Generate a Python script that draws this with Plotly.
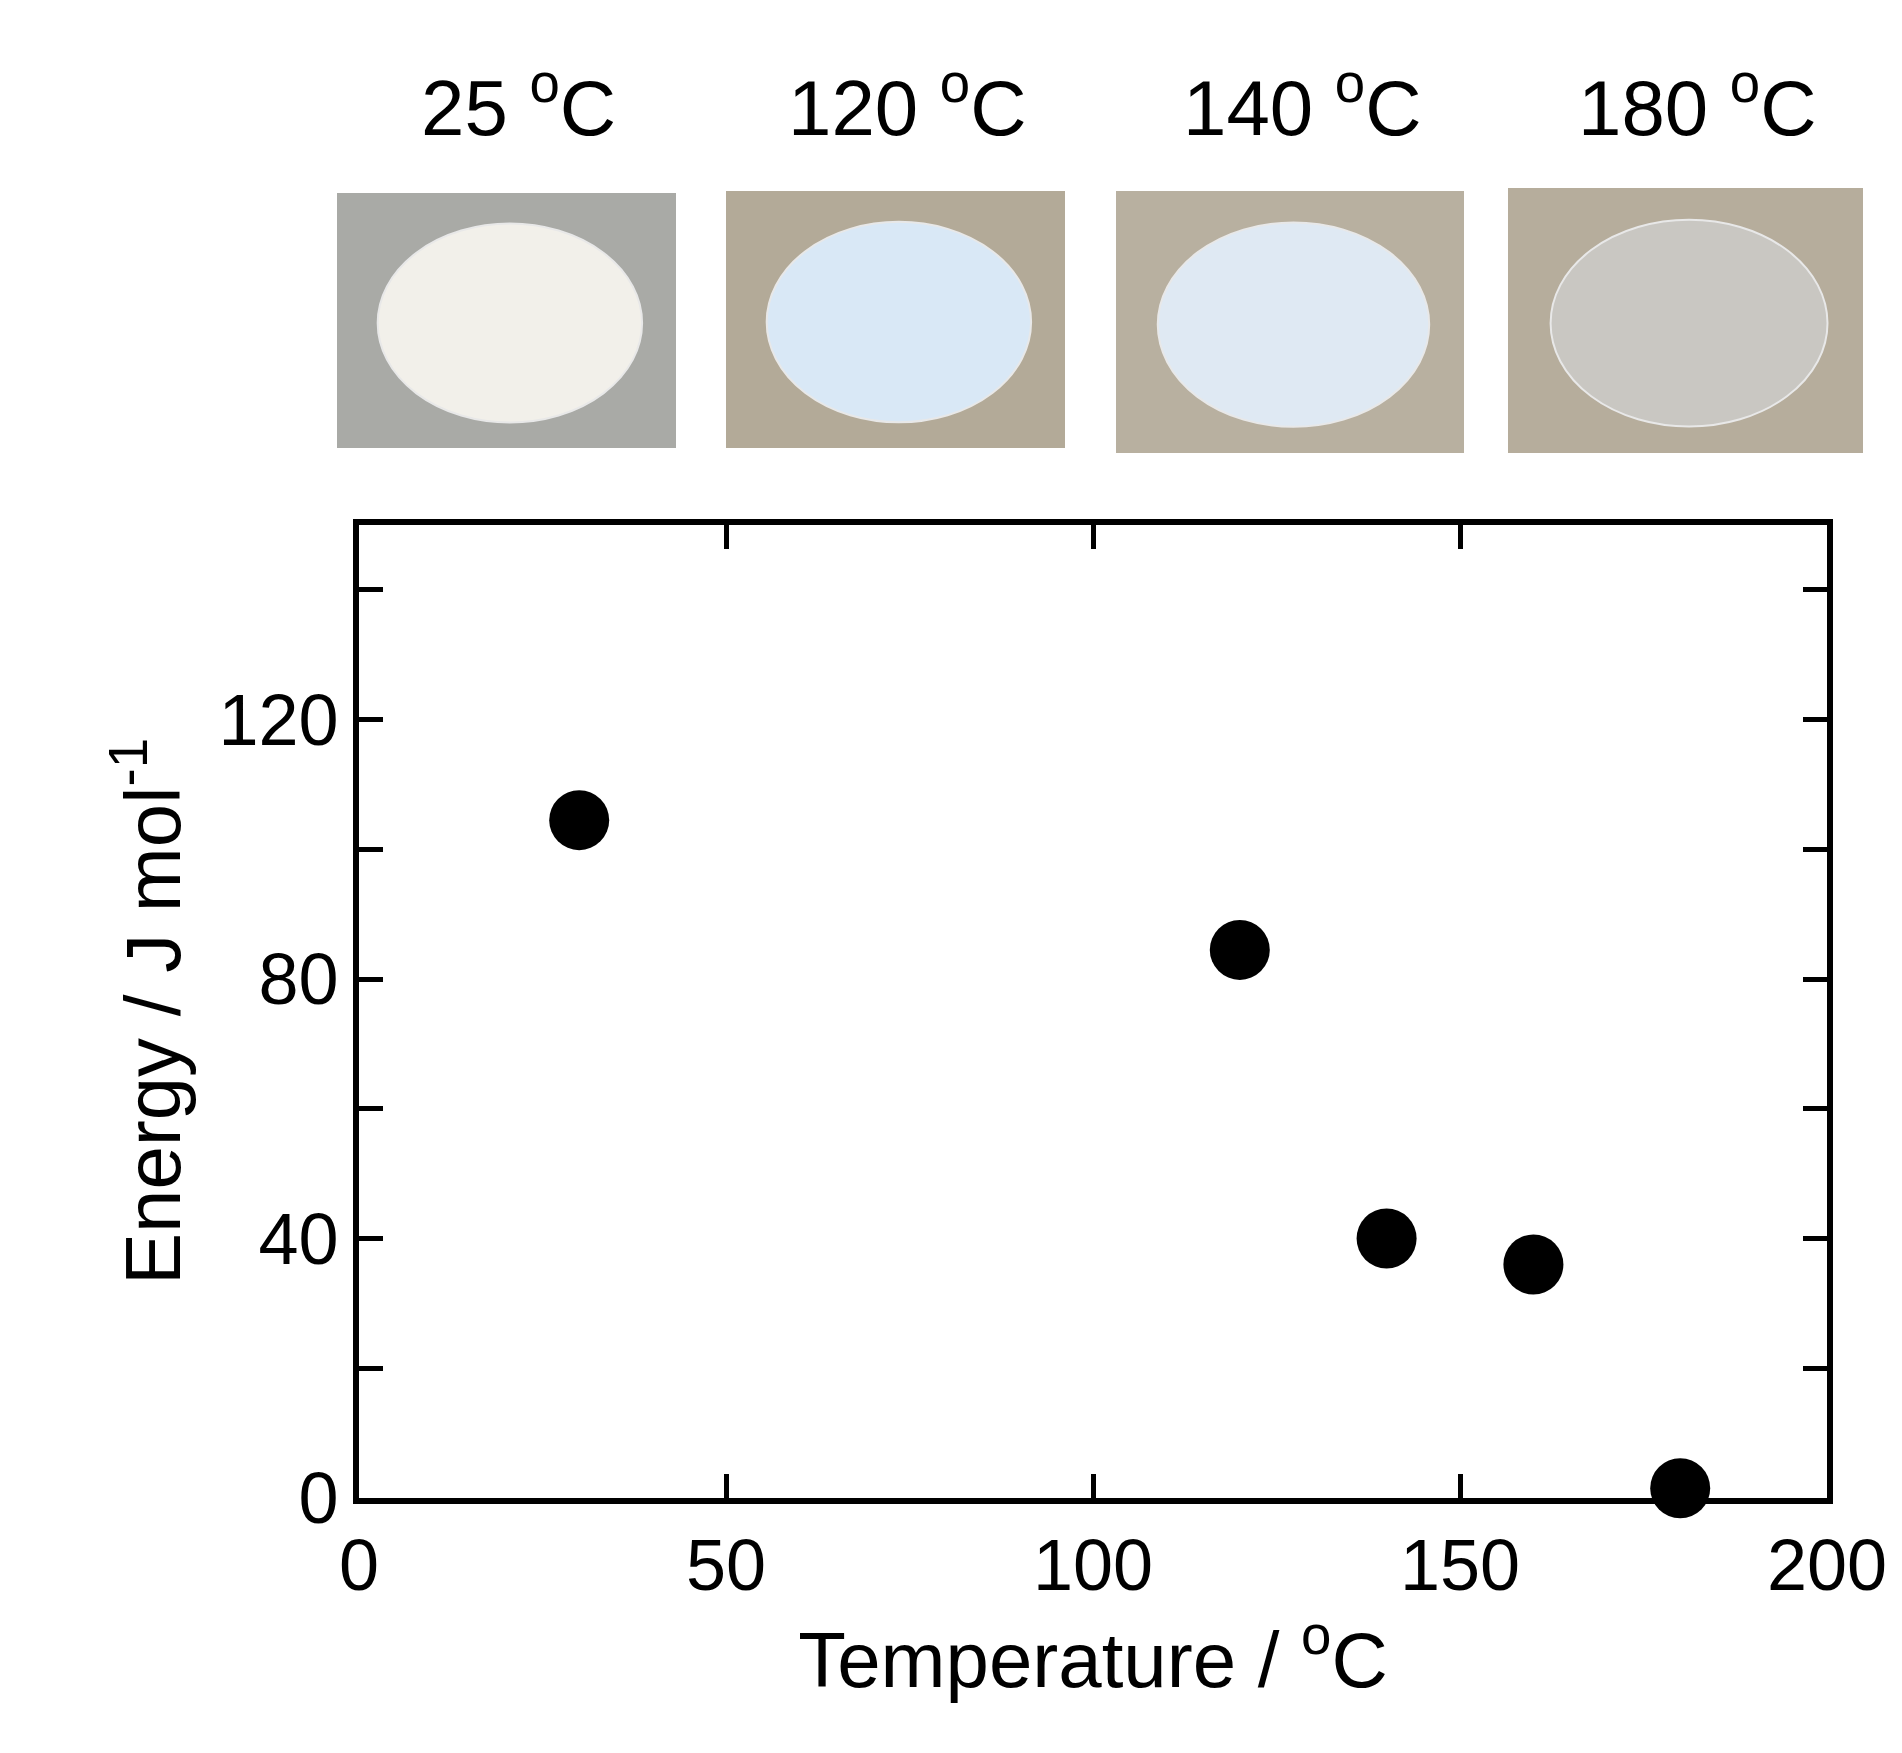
import plotly.graph_objects as go

temps = [30, 120, 140, 160, 180]
energy = [104.5, 84.5, 40, 36, 1.5]
photo_labels = ["25 <sup>o</sup>C", "120 <sup>o</sup>C", "140 <sup>o</sup>C", "180 <sup>o</sup>C"]

W, H = 1902, 1753
L, R, T, B = 351, 83, 517, 263
pw, ph = W - L - R, H - T - B

def px(x): return (x - L) / pw
def py(y): return (H - B - y) / ph

fig = go.Figure(go.Scatter(x=temps, y=energy, mode="markers",
                           marker=dict(size=60, color="black"), cliponaxis=False))

boxes = [(329, 668, 185, 440, "#a9aaa6", "#f2f0ea"),
         (718, 1057, 183, 440, "#b3aa98", "#d9e8f6"),
         (1108, 1456, 183, 445, "#b8b0a0", "#dfe9f3"),
         (1500, 1855, 180, 445, "#b6ad9c", "#c9c7c2")]
shapes = []
annos = []
for (x0, x1, y0, y1, bg, disc), lab in zip(boxes, photo_labels):
    shapes.append(dict(type="rect", xref="paper", yref="paper", x0=px(x0), x1=px(x1),
                       y0=py(y1), y1=py(y0), fillcolor=bg, line=dict(width=0), layer="below"))
    cx0, cx1 = x0 + (x1 - x0) * 0.12, x1 - (x1 - x0) * 0.1
    cy0, cy1 = y0 + (y1 - y0) * 0.12, y1 - (y1 - y0) * 0.1
    shapes.append(dict(type="circle", xref="paper", yref="paper", x0=px(cx0), x1=px(cx1),
                       y0=py(cy1), y1=py(cy0), fillcolor=disc, line=dict(color="#e8e8e8", width=2)))
    annos.append(dict(xref="paper", yref="paper", x=px((x0 + x1) / 2 + 12), y=py(95),
                      text=lab, showarrow=False, font=dict(size=78, color="black"),
                      xanchor="center", yanchor="middle"))

axis_common = dict(showline=True, linecolor="black", linewidth=6, mirror="allticks",
                   ticks="inside", ticklen=24, tickwidth=5, tickcolor="black",
                   showgrid=False, zeroline=False,
                   tickfont=dict(size=72, color="black"))
fig.update_layout(
    width=W, height=H, margin=dict(l=L, r=R, t=T, b=B),
    paper_bgcolor="white", plot_bgcolor="white",
    font=dict(family="Liberation Sans, Arial, sans-serif", color="black"),
    showlegend=False, shapes=shapes, annotations=annos,
    xaxis=dict(range=[0, 200], dtick=50, title=dict(text="Temperature / <sup>o</sup>C",
               font=dict(size=78), standoff=6), **axis_common),
    yaxis=dict(range=[0, 150], tickvals=[0, 20, 40, 60, 80, 100, 120, 140],
               ticktext=["0", "", "40", "", "80", "", "120", ""],
               title=dict(text="Energy / J mol<sup>-1</sup>", font=dict(size=78), standoff=14),
               **axis_common),
)
fig.write_html("out.html")
